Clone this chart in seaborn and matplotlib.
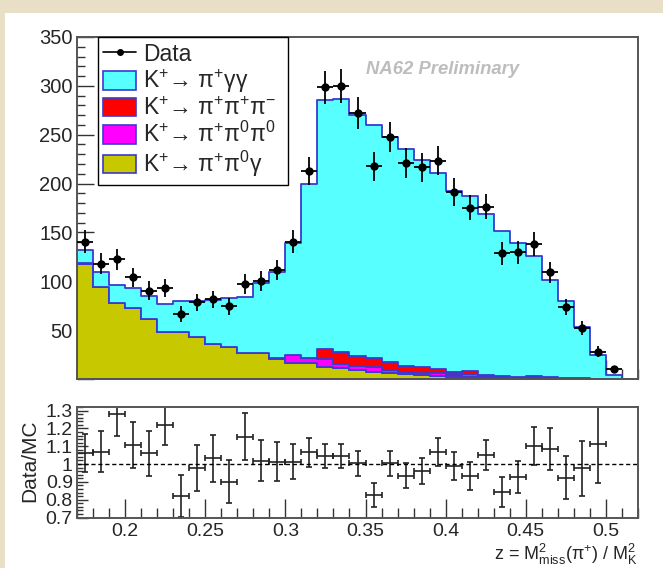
import numpy as np
import pandas as pd
import matplotlib
matplotlib.use('Agg')
import matplotlib.pyplot as plt
import seaborn as sns
from matplotlib.lines import Line2D
from matplotlib.patches import Patch, Rectangle
from matplotlib.ticker import MultipleLocator, FuncFormatter

# ---------------- data ----------------
z_min, z_max, n_bins = 0.17, 0.52, 35

mc_pigg = [13.7, 15.7, 18.2, 20.7, 23.7, 28.2, 31.7, 36.7, 44.7, 49.7, 56.7, 71.5,
           88.5, 115, 178, 255.3, 259, 246.5, 238.8, 229.8, 221.4, 211.4, 200.6,
           185.7, 179.3, 165, 148.2, 137, 123, 99, 78.7, 52.8, 24.2, 4, 0]
mc_3pi = [0] * 15 + [10.7, 12.5, 10.2, 8.6, 8.5, 6.1, 6.1, 4.1, 2.8, 3.2, 1, 0.8,
                     0.5, 0.5, 0.5, 0.3, 0.2, 0.1, 0, 0]
mc_pi00 = [0.3] * 11 + [0.5, 1.5, 8, 6, 7.5, 4, 4.3, 5.1, 3.2, 2.5, 2.5, 2.8, 2, 3,
                        2, 2, 1, 2.2, 1.2, 0.8, 0.4, 0.2, 0, 0]
mc_pi0g = [118, 94, 77.5, 72.5, 61, 48, 48, 43, 36, 32.5, 26.5, 26.5, 20, 16.5, 16,
           12.5, 11.5, 9, 7.5, 6, 5, 4, 3, 2, 2, 1, 0.5, 0.5, 0.3, 0.3, 0.2, 0.1,
           0, 0, 0]

data_counts = [140.5, 118, 122.5, 104, 90.5, 93, 66.5, 78.5, 81.5, 74.5, 97, 100.5,
               111.5, 140.5, 213, 298.5, 300, 272, 217.5, 247.5, 221, 216.5, 223.5,
               191.5, 175.5, 176.5, 128.5, 129.5, 138, 109, 73.5, 52.5, 28, 10]
data_err = [12, 11, 11, 10, 9.5, 9.5, 8, 9, 9, 8.5, 10, 10, 10.5, 12, 14.5, 17, 17.5,
            16.5, 15, 15.5, 15, 14.5, 15, 14, 13, 13, 11.5, 11.5, 12, 10.5, 8.5, 7,
            5.5, 3.2]

ratio = [1.064, 1.069, 1.281, 1.107, 1.06, 1.219, 0.822, 0.976, 1.032, 0.90, 1.154,
         1.019, 1.013, 1.013, 1.066, 1.045, 1.045, 1.004, 0.827, 1.004, 0.933, 0.962,
         1.069, 0.989, 0.933, 1.051, 0.844, 0.929, 1.101, 1.083, 0.923, 0.976, 1.112]
ratio_err = [0.107, 0.116, 0.124, 0.127, 0.128, 0.115, 0.117, 0.129, 0.133, 0.12,
             0.134, 0.116, 0.11, 0.097, 0.08, 0.07, 0.068, 0.071, 0.066, 0.071, 0.07,
             0.073, 0.078, 0.08, 0.078, 0.086, 0.084, 0.089, 0.106, 0.118, 0.12,
             0.153, 0.221]

comp_names = ['pigg', '3pi', 'pi00', 'pi0g']
comp_labels = [r'K$^{+}$→ $\pi^{+}\gamma\gamma$',
               r'K$^{+}$→ $\pi^{+}\pi^{+}\pi^{-}$',
               r'K$^{+}$→ $\pi^{+}\pi^{0}\pi^{0}$',
               r'K$^{+}$→ $\pi^{+}\pi^{0}\gamma$']
comp_colors = ['#58ffff', '#ff0000', '#ff00ff', '#c8c800']

# ---------------- style ----------------
sns.set_theme(style='white')
plt.rcParams['font.family'] = ['Liberation Sans', 'DejaVu Sans']
plt.rcParams['mathtext.fontset'] = 'custom'
plt.rcParams['mathtext.rm'] = 'Liberation Sans'
plt.rcParams['mathtext.it'] = 'Liberation Sans:italic'
plt.rcParams['mathtext.bf'] = 'Liberation Sans:bold'
plt.rcParams['mathtext.default'] = 'regular'

W, H = 663, 568
fig = plt.figure(figsize=(W / 100, H / 100), dpi=100, facecolor='#e9dfc6')
fig.patches.append(Rectangle((5 / W, 0), 1 - 5 / W, 1 - 13 / H, transform=fig.transFigure,
                             facecolor='white', edgecolor='none', zorder=-10))

ax = fig.add_axes([77 / W, 1 - 379 / H, 561 / W, 342 / H])
axr = fig.add_axes([77 / W, 1 - 517.5 / H, 561 / W, 110.5 / H])

bin_w = (z_max - z_min) / n_bins
centers = z_min + bin_w * (np.arange(n_bins) + 0.5)
frames = []
for name, vals in zip(comp_names, [mc_pigg, mc_3pi, mc_pi00, mc_pi0g]):
    frames.append(pd.DataFrame({'z': centers, 'w': vals, 'comp': name}))
df = pd.concat(frames, ignore_index=True)

edge_col = '#3a3ad0'
sns.histplot(data=df, x='z', weights='w', hue='comp', hue_order=comp_names,
             palette=dict(zip(comp_names, comp_colors)), multiple='stack',
             bins=n_bins, binrange=(z_min, z_max), element='step', fill=True, alpha=1,
             edgecolor=edge_col, linewidth=1.3, legend=False, ax=ax)

ax.errorbar(centers[:len(data_counts)], data_counts, yerr=data_err, xerr=bin_w / 2,
            fmt='o', color='black', ms=5, elinewidth=1.3, capsize=0, zorder=5)

ax.set_xlim(z_min, z_max)
ax.set_ylim(0, 350)
ax.set_xlabel('')
ax.set_ylabel('')
ax.xaxis.set_major_locator(MultipleLocator(0.05))
ax.xaxis.set_minor_locator(MultipleLocator(0.01))
ax.yaxis.set_major_locator(MultipleLocator(50))
ax.yaxis.set_minor_locator(MultipleLocator(10))
ax.yaxis.set_major_formatter(FuncFormatter(lambda v, p: '' if abs(v) < 1e-9 else '%d' % v))
ax.tick_params(which='both', direction='in', left=True, bottom=True, top=False,
               right=False, labelbottom=False, color='#333333', width=1)
ax.tick_params(axis='x', which='major', length=14)
ax.tick_params(axis='x', which='minor', length=7)
ax.tick_params(axis='y', which='major', length=12, labelsize=14.5, pad=3)
ax.tick_params(axis='y', which='minor', length=6)

for a in (ax, axr):
    for s in a.spines.values():
        s.set_visible(True)
        s.set_color('#555555')
        s.set_linewidth(1.4)
    a.grid(False)

handles = [Line2D([], [], color='black', marker='o', ms=4, lw=1.2)]
for c in comp_colors:
    handles.append(Patch(facecolor=c, edgecolor=edge_col, linewidth=1.2))
leg = ax.legend(handles, ['Data'] + comp_labels, loc='upper left',
                bbox_to_anchor=(20.5 / 561, 0, 190 / 561, 1.0), mode='expand',
                borderaxespad=0, frameon=True, fancybox=False, edgecolor='black',
                fontsize=16.5, handlelength=1.45, handleheight=0.85,
                handletextpad=0.3, labelspacing=0.08, borderpad=0.25)
leg.get_frame().set_linewidth(1.0)
leg.get_frame().set_alpha(1)

fig.text(443 / W, 1 - 70 / H, 'NA62 Preliminary', ha='center', va='center',
         fontsize=13.3, fontweight='bold', fontstyle='italic', color='#bdbdbd')

# ---------------- ratio panel ----------------
axr.errorbar(centers[:len(ratio)], ratio, yerr=ratio_err, xerr=bin_w / 2, fmt='none',
             ecolor='#222222', elinewidth=1.2, capsize=2.5, capthick=1.2)
axr.axhline(1.0, color='black', ls=(0, (3, 2)), lw=1)
axr.set_xlim(z_min, z_max)
axr.set_ylim(0.7, 1.32)
axr.xaxis.set_major_locator(MultipleLocator(0.05))
axr.xaxis.set_minor_locator(MultipleLocator(0.01))
axr.yaxis.set_major_locator(MultipleLocator(0.1))
axr.yaxis.set_minor_locator(MultipleLocator(0.02))
axr.xaxis.set_major_formatter(FuncFormatter(lambda v, p: '%g' % round(v, 3)))
axr.yaxis.set_major_formatter(FuncFormatter(lambda v, p: '%g' % round(v, 3)))
axr.tick_params(which='both', direction='in', left=True, bottom=True, top=False,
                right=False, color='#333333', width=1)
axr.tick_params(axis='x', which='major', length=14, labelsize=14, pad=4)
axr.tick_params(axis='x', which='minor', length=7)
axr.tick_params(axis='y', which='major', length=8, labelsize=14, pad=3)
axr.tick_params(axis='y', which='minor', length=4)

fig.text(30 / W, 1 - 461 / H, 'Data/MC', rotation=90, ha='center', va='center',
         fontsize=15)
fig.text(638 / W, 1 - 554 / H, r'z = M$^{2}_{miss}$($\pi^{+}$) / M$^{2}_{K}$',
         ha='right', va='center', fontsize=13)

fig.savefig('out.png', dpi=100, facecolor=fig.get_facecolor())
